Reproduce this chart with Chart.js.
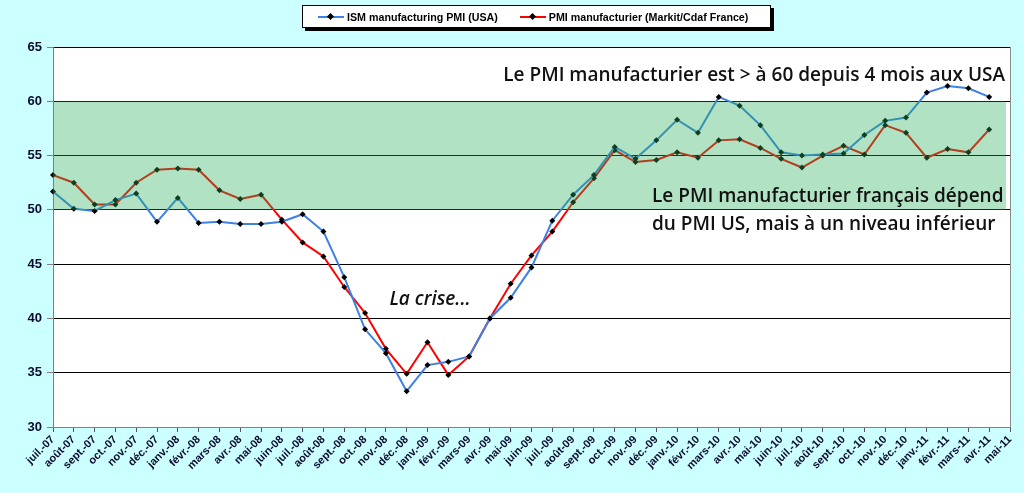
<!DOCTYPE html>
<html>
<head>
<meta charset="utf-8">
<script src="https://cdn.jsdelivr.net/npm/chart.js@4.4.1/dist/chart.umd.min.js"></script>
<style>
  html, body { margin: 0; padding: 0; background: #ccffff; }
  #wrap { position: relative; width: 1024px; height: 493px; }
  #legend {
    position: absolute; left: 302px; top: 5px; width: 467px; height: 21px;
    background: #fff; border: 1px solid #000; box-shadow: 3px 3px 0 #000;
    font: bold 10.7px "Liberation Sans", Arial, sans-serif; color: #000;
    display: flex; align-items: center;
  }
  .item { display: flex; align-items: center; }
  .swatch { position: relative; width: 26px; height: 2px; margin-right: 3px; }
  .swatch i { position: absolute; left: 10px; top: -2px; width: 5px; height: 5px; background: #000; transform: rotate(45deg); }
</style>
</head>
<body>
<div id="wrap">
  <canvas id="pmiChart" width="1024" height="493"></canvas>
  <div id="legend"></div>
</div>
<script>
// Month labels (Excel style mmm-yy)
const labels = [
  'juil.-07', 'août-07', 'sept.-07', 'oct.-07', 'nov.-07', 'déc.-07',
  'janv.-08', 'févr.-08', 'mars-08', 'avr.-08', 'mai-08', 'juin-08',
  'juil.-08', 'août-08', 'sept.-08', 'oct.-08', 'nov.-08', 'déc.-08',
  'janv.-09', 'févr.-09', 'mars-09', 'avr.-09', 'mai-09', 'juin-09',
  'juil.-09', 'août-09', 'sept.-09', 'oct.-09', 'nov.-09', 'déc.-09',
  'janv.-10', 'févr.-10', 'mars-10', 'avr.-10', 'mai-10', 'juin-10',
  'juil.-10', 'août-10', 'sept.-10', 'oct.-10', 'nov.-10', 'déc.-10',
  'janv.-11', 'févr.-11', 'mars-11', 'avr.-11', 'mai-11'
];

// ISM manufacturing PMI (USA)
const ismUSA = [
  51.7, 50.1, 49.9, 50.9, 51.5, 48.9, 51.1, 48.8, 48.9, 48.7, 48.7, 48.9,
  49.6, 48.0, 43.8, 39.0, 36.8, 33.3, 35.7, 36.0, 36.5, 40.0, 41.9, 44.7,
  49.0, 51.4, 53.2, 55.8, 54.7, 56.4, 58.3, 57.1, 60.4, 59.6, 57.8, 55.3,
  55.0, 55.1, 55.2, 56.9, 58.2, 58.5, 60.8, 61.4, 61.2, 60.4
];

// PMI manufacturier (Markit/Cdaf France)
const pmiFrance = [
  53.2, 52.5, 50.5, 50.5, 52.5, 53.7, 53.8, 53.7, 51.8, 51.0, 51.4, 49.1,
  47.0, 45.7, 42.9, 40.5, 37.2, 34.9, 37.8, 34.8, 36.5, 40.0, 43.2, 45.8,
  48.0, 50.7, 52.9, 55.5, 54.4, 54.6, 55.3, 54.8, 56.4, 56.5, 55.7, 54.7,
  53.9, 55.0, 55.9, 55.1, 57.8, 57.1, 54.8, 55.6, 55.3, 57.4
];

const yTicks = [30, 35, 40, 45, 50, 55, 60, 65];

const seriesNames = ['ISM manufacturing  PMI (USA)', 'PMI manufacturier (Markit/Cdaf France)'];
const seriesColors = ['#3d80e6', '#ff0000'];

const noteTop = 'Le PMI manufacturier est > à 60 depuis 4 mois aux USA';
const noteCrisis = 'La crise...';
const noteFrance = ['Le PMI manufacturier français dépend', 'du PMI US, mais à un niveau inférieur'];

// html legend with the boxed Excel look
const legend = document.getElementById('legend');
seriesNames.forEach((name, i) => {
  const item = document.createElement('div');
  item.className = 'item';
  item.style.marginLeft = i === 0 ? '15px' : '22px';
  item.innerHTML = '<span class="swatch" style="background:' + seriesColors[i] + '"><i></i></span>' + name;
  legend.appendChild(item);
});

// plot background, 50-60 zone and text notes
const decor = {
  id: 'decor',
  beforeDraw(chart) {
    const { ctx, chartArea: a } = chart;
    ctx.save();
    ctx.fillStyle = '#ccffff';
    ctx.fillRect(0, 0, chart.width, chart.height);
    ctx.fillStyle = '#ffffff';
    ctx.fillRect(a.left, a.top, a.right - a.left, a.bottom - a.top);
    ctx.restore();
  },
  afterDatasetsDraw(chart) {
    const { ctx, chartArea: a, scales: { y } } = chart;
    ctx.save();
    const y60 = y.getPixelForValue(60), y50 = y.getPixelForValue(50);
    ctx.fillStyle = 'rgba(40,175,90,0.36)';
    ctx.fillRect(a.left, y60, a.right - a.left - 4, y50 - y60);

    ctx.strokeStyle = '#8a8a8a';
    ctx.lineWidth = 1;
    ctx.beginPath();
    ctx.moveTo(Math.round(a.right) + 0.5, a.top);
    ctx.lineTo(Math.round(a.right) + 0.5, a.bottom);
    ctx.stroke();

    ctx.fillStyle = '#111';
    ctx.textBaseline = 'middle';
    ctx.font = '600 19px "Open Sans"';
    ctx.textAlign = 'right';
    ctx.fillText(noteTop, a.right - 5, y.getPixelForValue(62.4));
    ctx.textAlign = 'left';
    ctx.fillText(noteFrance[0], 652, y.getPixelForValue(51.2));
    ctx.fillText(noteFrance[1], 652, y.getPixelForValue(48.6));
    ctx.font = 'italic 600 19px "Open Sans"';
    ctx.textAlign = 'center';
    ctx.fillText(noteCrisis, 430, y.getPixelForValue(41.7));
    ctx.restore();
  }
};

const ctx = document.getElementById('pmiChart').getContext('2d');
new Chart(ctx, {
  type: 'line',
  data: {
    labels: labels,
    datasets: [ismUSA, pmiFrance].map((values, i) => ({
      label: seriesNames[i],
      data: values,
      borderColor: seriesColors[i],
      borderWidth: 2,
      tension: 0,
      pointStyle: 'rectRot',
      pointRadius: 3,
      pointBackgroundColor: '#000',
      pointBorderColor: '#000',
      pointBorderWidth: 0,
      fill: false
    }))
  },
  options: {
    responsive: false,
    animation: false,
    layout: { padding: { top: 47, right: 14, left: 0, bottom: 0 } },
    scales: {
      x: {
        offset: false,
        grid: {
          offset: false,
          drawOnChartArea: false,
          drawTicks: true,
          tickLength: 5,
          tickColor: '#555'
        },
        border: { color: '#808080' },
        ticks: {
          autoSkip: false,
          minRotation: 45,
          maxRotation: 45,
          padding: 1,
          color: '#0b0b30',
          font: { family: '"Liberation Sans", Arial', size: 11, weight: 'bold' }
        },
        afterFit(scale) { scale.height = 66; }
      },
      y: {
        min: 30,
        max: 65,
        afterBuildTicks(scale) { scale.ticks = yTicks.map(v => ({ value: v })); },
        grid: {
          color: c => c.tick && c.tick.value === 30 ? 'rgba(0,0,0,0)' : '#000',
          tickColor: '#808080',
          tickLength: 6,
          lineWidth: 1
        },
        border: { color: '#808080' },
        ticks: {
          padding: 5,
          color: '#0b0b30',
          font: { family: '"Liberation Sans", Arial', size: 13, weight: 'bold' }
        },
        afterFit(scale) { scale.width = 53; }
      }
    },
    plugins: {
      legend: { display: false },
      tooltip: { enabled: false }
    }
  },
  plugins: [decor]
});
</script>
</body>
</html>
